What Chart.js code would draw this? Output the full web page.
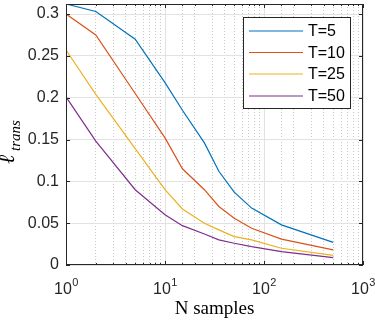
<!DOCTYPE html>
<html>
<head>
<meta charset="utf-8">
<script src="https://cdn.jsdelivr.net/npm/chart.js@4/dist/chart.umd.min.js"></script>
<style>
  html, body { margin: 0; padding: 0; background: #ffffff; }
  canvas { display: block; }
</style>
</head>
<body>
<canvas id="c" width="375" height="321"></canvas>
<script>
// ---- data ----
const nSamples = [1, 2, 5, 10, 15, 25, 35, 50, 75, 150, 500];
const seriesLabels = ['T=5', 'T=10', 'T=25', 'T=50'];
const lossT5  = [0.312, 0.303, 0.270, 0.218, 0.185, 0.146, 0.112, 0.087, 0.068, 0.048, 0.027];
const lossT10 = [0.300, 0.275, 0.205, 0.152, 0.115, 0.090, 0.070, 0.056, 0.044, 0.031, 0.018];
const lossT25 = [0.257, 0.204, 0.139, 0.090, 0.067, 0.050, 0.042, 0.034, 0.030, 0.020, 0.0116];
const lossT50 = [0.201, 0.148, 0.090, 0.060, 0.047, 0.037, 0.030, 0.026, 0.022, 0.016, 0.0088];
const yTickValues = [0, 0.05, 0.1, 0.15, 0.2, 0.25, 0.3];
const xTickExponents = [0, 1, 2, 3];
const xTitle = 'N samples';
const yTitleMain = 'ℓ';
const yTitleSub = 'trans';

const colors = ['#0072BD', '#D95319', '#EDB120', '#7E2F8E'];
const allSeries = [lossT5, lossT10, lossT25, lossT50];
const axisColor = '#262626';

function isDecade(v) {
  const l = Math.log10(v);
  return Math.abs(l - Math.round(l)) < 1e-9;
}

const datasets = allSeries.map((s, i) => ({
  label: seriesLabels[i],
  data: nSamples.map((n, j) => ({ x: n, y: s[j] })),
  borderColor: colors[i],
  backgroundColor: colors[i],
  borderWidth: 1.2,
  pointRadius: 0,
  tension: 0,
  fill: false
}));

const decor = {
  id: 'decor',
  afterDraw(chart) {
    const ctx = chart.ctx;
    const a = chart.chartArea;
    const xs = chart.scales.x, ys = chart.scales.y;
    ctx.save();
    // box
    ctx.strokeStyle = axisColor;
    ctx.lineWidth = 1;
    ctx.strokeRect(a.left + 0.5, a.top + 0.5, a.right - a.left - 1, a.bottom - a.top - 1);
    // y ticks (inward, both sides)
    ctx.beginPath();
    yTickValues.forEach(v => {
      const py = Math.round(ys.getPixelForValue(v)) + 0.5;
      ctx.moveTo(a.left, py); ctx.lineTo(a.left + 4, py);
      ctx.moveTo(a.right, py); ctx.lineTo(a.right - 4, py);
    });
    // x ticks (major + minor, inward, bottom and top)
    xs.ticks.forEach(t => {
      const px = Math.round(xs.getPixelForValue(t.value)) + 0.5;
      const len = isDecade(t.value) ? 4 : 2;
      ctx.moveTo(px, a.bottom); ctx.lineTo(px, a.bottom - len);
      ctx.moveTo(px, a.top); ctx.lineTo(px, a.top + len);
    });
    ctx.stroke();

    // x tick labels 10^k
    ctx.fillStyle = axisColor;
    ctx.textBaseline = 'alphabetic';
    xTickExponents.forEach(e => {
      const px = xs.getPixelForValue(Math.pow(10, e));
      ctx.font = '16px "Liberation Sans", Arial, sans-serif';
      const w1 = ctx.measureText('10').width;
      ctx.font = '11px "Liberation Sans", Arial, sans-serif';
      const w2 = ctx.measureText(String(e)).width;
      const x0 = px - (w1 + w2) / 2;
      ctx.font = '16px "Liberation Sans", Arial, sans-serif';
      ctx.textAlign = 'left';
      ctx.fillText('10', x0, 294);
      ctx.font = '11px "Liberation Sans", Arial, sans-serif';
      ctx.fillText(String(e), x0 + w1 + 0.5, 286);
    });

    // x title
    ctx.font = '19px "Liberation Serif", "Times New Roman", serif';
    ctx.textAlign = 'center';
    ctx.fillStyle = '#000000';
    ctx.fillText(xTitle, (a.left + a.right) / 2, 314);

    // y title (rotated)
    ctx.save();
    ctx.translate(0, 164);
    ctx.rotate(-Math.PI / 2);
    ctx.textAlign = 'left';
    ctx.font = 'italic 22px "DejaVu Serif", "Liberation Serif", serif';
    ctx.fillText(yTitleMain, 0, 14);
    const wl = ctx.measureText(yTitleMain).width;
    ctx.font = 'italic 15px "Liberation Serif", "Times New Roman", serif';
    ctx.fillText(yTitleSub, Math.max(wl, 12) + 1, 20);
    ctx.restore();

    // legend
    const lx0 = 243.5, ly0 = 17.5, lx1 = 350.5, ly1 = 108.5;
    ctx.fillStyle = '#ffffff';
    ctx.fillRect(lx0, ly0, lx1 - lx0, ly1 - ly0);
    ctx.strokeStyle = axisColor;
    ctx.lineWidth = 1;
    ctx.strokeRect(lx0, ly0, lx1 - lx0, ly1 - ly0);
    const rows = [31, 52.5, 74, 96];
    chart.data.datasets.forEach((ds, i) => {
      const yy = rows[i];
      ctx.strokeStyle = ds.borderColor;
      ctx.lineWidth = 1.2;
      ctx.beginPath();
      ctx.moveTo(249, yy); ctx.lineTo(303, yy);
      ctx.stroke();
      ctx.fillStyle = '#000000';
      ctx.font = '16px "Liberation Sans", Arial, sans-serif';
      ctx.textAlign = 'left';
      ctx.textBaseline = 'middle';
      ctx.fillText(ds.label, 308, yy + 1);
    });
    ctx.restore();
  }
};

new Chart(document.getElementById('c'), {
  type: 'line',
  data: { datasets },
  options: {
    responsive: false,
    animation: false,
    devicePixelRatio: 1,
    layout: { padding: { top: 4, right: 12, left: 0, bottom: 0 } },
    plugins: { legend: { display: false }, tooltip: { enabled: false } },
    scales: {
      x: {
        type: 'logarithmic',
        min: 1,
        max: 1000,
        ticks: { display: false, autoSkip: false },
        grid: {
          drawTicks: false,
          lineWidth: 1,
          color: c => (c.tick && isDecade(c.tick.value)) ? '#e2e2e2' : '#c8c8c8'
        },
        border: {
          display: false,
          dash: c => (c.tick && isDecade(c.tick.value)) ? [] : [1, 2]
        },
        afterFit(s) { s.height = 56; s.paddingLeft = 0; s.paddingRight = 0; }
      },
      y: {
        type: 'linear',
        min: 0,
        max: 0.312,
        ticks: {
          stepSize: 0.05,
          includeBounds: false,
          padding: 7,
          color: axisColor,
          font: { family: '"Liberation Sans", Arial, sans-serif', size: 16 },
          callback: v => String(Math.round(v * 100) / 100)
        },
        grid: { drawTicks: false, color: '#e2e2e2', lineWidth: 1 },
        border: { display: false },
        afterFit(s) { s.width = 66; s.paddingTop = 0; s.paddingBottom = 0; }
      }
    }
  },
  plugins: [decor]
});
</script>
</body>
</html>
